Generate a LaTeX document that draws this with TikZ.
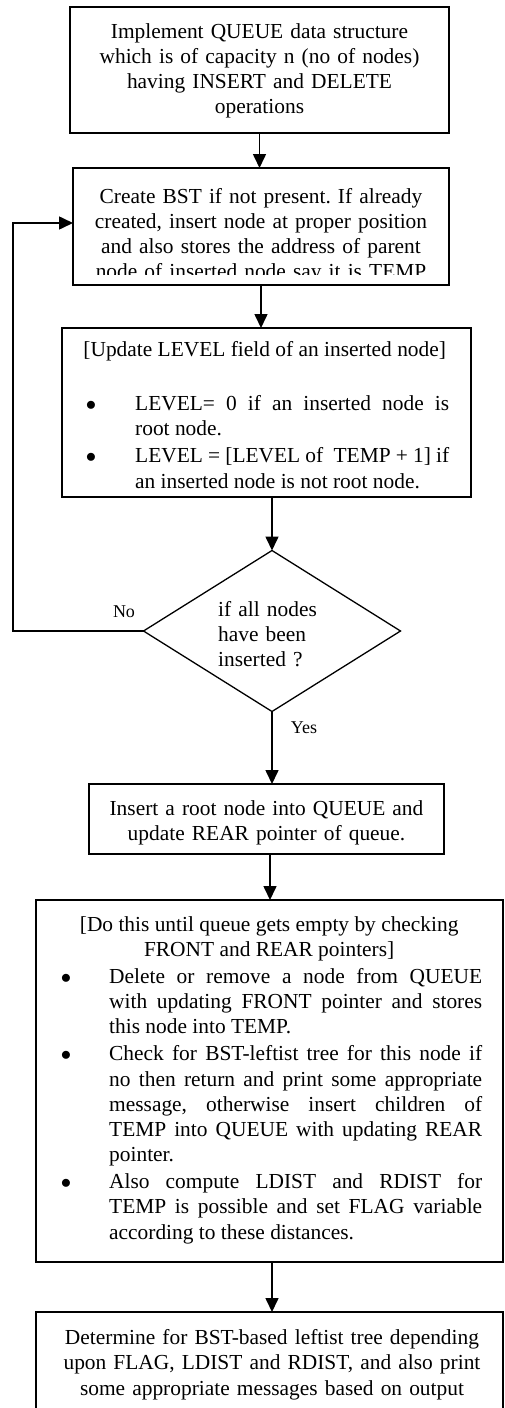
\documentclass[tikz,border=0pt]{standalone}
\usepackage{fontspec}
\setmainfont{Liberation Serif}
\usetikzlibrary{arrows.meta,shapes.geometric}
\newcommand\bitem[3]{\par\noindent\hangindent=#1\hangafter=1\makebox[#1][l]{\hspace{#2}$\bullet$}#3\par}
\tikzset{
  box/.style={draw, line width=1.9pt, inner sep=0pt, outer sep=0pt},
  arr/.style={line width=1.6pt, -{Triangle[width=13pt,length=14pt]}},
  txt/.style={inner sep=0pt, anchor=north, font=\fontsize{21.4}{25}\selectfont, align=center},
  lbl/.style={inner sep=0pt, font=\fontsize{18}{20}\selectfont},
}
\begin{document}
\frenchspacing
\begin{tikzpicture}[x=1pt,y=-1pt]
\clip (0,0) rectangle (504,1408);
\tolerance=10000 \hyphenpenalty=10000
% boxes
\node[box, minimum width=379pt, minimum height=126pt] (b1) at (259.5,70) {};
\node[box, minimum width=376pt, minimum height=117pt] (b2) at (261,226.5) {};
\node[box, minimum width=409pt, minimum height=169pt] (b3) at (266.5,412.5) {};
\node[draw, diamond, line width=1.3pt, inner sep=0pt, outer sep=0pt, minimum width=257pt, minimum height=161pt] (d) at (272,631) {};
\node[box, minimum width=355pt, minimum height=70pt] (b4) at (266.5,819) {};
\node[box, minimum width=467pt, minimum height=362pt] (b5) at (269.5,1081) {};
\node[box, minimum width=467pt, minimum height=148pt] (b6) at (269.5,1386) {};
% texts
\node[txt, text width=379pt] (t1) at (259.5,20.5) {\strut Implement QUEUE data structure\\ which is of capacity n (no of nodes)\\ having INSERT and DELETE\\ operations};
\begin{scope}
\clip (73,168) rectangle (449,274);
\node[txt, text width=376pt] (t2) at (261,185.5) {\strut Create BST if not present. If already\\ created, insert node at proper position\\ and also stores the address of parent\\ node of inserted node say it is TEMP};
\end{scope}
\node[txt, anchor=north west, text width=369pt, align=justify, font=\fontsize{21.4}{25.5}\selectfont] (t3) at (80,338.15) {{\centering\strut[Update LEVEL field of an inserted node]\par}\vspace{28.5pt}\bitem{55pt}{5.6pt}{LEVEL= 0 if an inserted node is\linebreak root node.}\vspace{1.5pt}\bitem{55pt}{5.6pt}{LEVEL = [LEVEL of\ \ TEMP + 1] if\linebreak an inserted node is not root node.}};
\node[txt, anchor=north west, text width=130pt, align=left] (td) at (218,598.5) {\strut if all nodes\\ have been\\ inserted ?};
\node[txt, text width=355pt] (t4) at (266.5,797.5) {\strut Insert a root node into QUEUE and\\ update REAR pointer of queue.};
\node[txt, anchor=north west, text width=426pt, align=justify, font=\fontsize{21.4}{25.2}\selectfont] (t5) at (56,913.36) {{\centering\strut[Do this until queue gets empty by checking\\ FRONT and REAR pointers]\par}\vspace{1.8pt}\bitem{53pt}{4.6pt}{Delete or remove a node from QUEUE\linebreak with updating FRONT pointer and stores\linebreak this node into TEMP.}\vspace{1.8pt}\bitem{53pt}{4.6pt}{Check for BST-leftist tree for this node if\linebreak no then return and print some appropriate\linebreak message, otherwise insert children of\linebreak TEMP into QUEUE with updating REAR\linebreak pointer.}\vspace{1.8pt}\bitem{53pt}{4.6pt}{Also compute LDIST and RDIST for\linebreak TEMP is possible and set FLAG variable\linebreak according to these distances.}};
\node[txt, text width=467pt, font=\fontsize{21.4}{25.5}\selectfont] (t6) at (272,1326.15) {\strut Determine for BST-based leftist tree depending\\ upon FLAG, LDIST and RDIST, and also print\\ some appropriate messages based on output};
% labels
\node[lbl] (no) at (124,612) {No};
\node[lbl] (yes) at (304,728) {Yes};
% connectors
\draw[arr] (b1.south) -- (b1.south |- b2.north);
\draw[arr] (b2.south) -- (b2.south |- b3.north);
\draw[arr] (b3.south -| d.north) -- (d.north);
\draw[arr] (d.south) -- (d.south |- b4.north);
\draw[arr] ([xshift=3.5pt]b4.south) -- ([xshift=3.5pt]b4.south |- b5.north);
\draw[arr] ([xshift=2.5pt]b5.south) -- ([xshift=2.5pt]b5.south |- b6.north);
\coordinate (lp1) at (13,631);
\coordinate (lp2) at (13,223);
\draw[arr] (d.west) -- (lp1) -- (lp2) -- (lp2 -| b2.west);
\end{tikzpicture}
\end{document}
